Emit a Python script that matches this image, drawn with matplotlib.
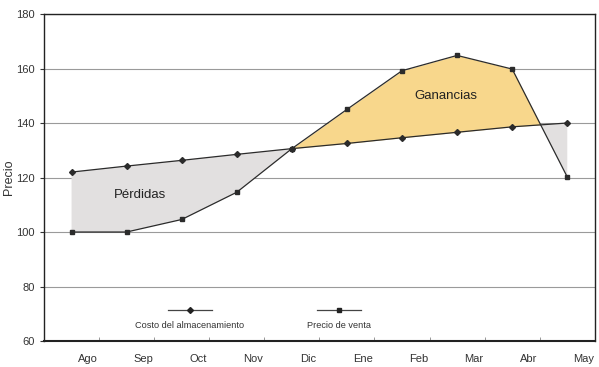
import matplotlib.pyplot as plt
import numpy as np

plt.rcParams['font.family'] = ['Liberation Sans', 'DejaVu Sans']

# datos
meses = ['Ago', 'Sep', 'Oct', 'Nov', 'Dic', 'Ene', 'Feb', 'Mar', 'Abr', 'May']
costo = [122, 124.2, 126.3, 128.5, 130.6, 132.5, 134.6, 136.6, 138.6, 140]
precio = [100, 100, 104.6, 114.6, 130.6, 145, 159.2, 164.8, 159.8, 120.2]

x = np.arange(len(meses)) + 0.5  # puntos en el centro de cada mes
c = np.array(costo)
p = np.array(precio)

fig = plt.figure(figsize=(5.99, 3.67), dpi=100)
ax = fig.add_axes([0.0735, 0.0708, 0.9195, 0.891])

# zonas de perdidas y ganancias
ax.fill_between(x, c, p, where=c >= p, interpolate=True, color='#e2e0e0', lw=0)
ax.fill_between(x, c, p, where=p >= c, interpolate=True, color='#f8d78c', lw=0)

ax.plot(x, costo, color='#2b2b2b', lw=0.9, marker='D', ms=3.0, zorder=3)
ax.plot(x, precio, color='#2b2b2b', lw=0.9, marker='s', ms=3.5, zorder=3)

ax.text(1.75, 113.5, 'Pérdidas', fontsize=9.5, ha='center', va='center', color='#222222')
ax.text(7.3, 150, 'Ganancias', fontsize=9.5, ha='center', va='center', color='#222222')

# leyenda dibujada a mano (marcador sobre el texto)
ax.plot([2.25, 3.05], [71.5, 71.5], color='#444444', lw=0.9)
ax.plot([2.65], [71.5], color='#222222', marker='D', ms=3.0)
ax.text(2.65, 65.8, 'Costo del almacenamiento', fontsize=6.6, ha='center', va='center', color='#333333')
ax.plot([4.95, 5.75], [71.5, 71.5], color='#444444', lw=0.9)
ax.plot([5.35], [71.5], color='#222222', marker='s', ms=3.5)
ax.text(5.35, 65.8, 'Precio de venta', fontsize=6.6, ha='center', va='center', color='#333333')

ax.set_xlim(0, 10)
ax.set_ylim(60, 180)
ax.set_yticks(range(60, 181, 20))
ax.yaxis.grid(True, color='#9a9a9a', lw=0.8)
ax.set_axisbelow(True)

ax.set_xticks(np.arange(1, 11), minor=True)
ax.set_xticks(np.arange(len(meses)) + 0.8)
ax.set_xticklabels(meses)
ax.tick_params(axis='x', which='major', length=0, labelsize=8, pad=9, colors='#333333')
ax.tick_params(axis='x', which='minor', length=3, direction='in', color='#888888')
ax.tick_params(axis='y', length=3, labelsize=8, colors='#333333')
ax.set_ylabel('Precio', fontsize=9, color='#333333', labelpad=1)

for s in ax.spines.values():
    s.set_color('#222222')
    s.set_linewidth(1.0)
ax.spines['bottom'].set_linewidth(1.5)

fig.savefig('out.png', dpi=100)
